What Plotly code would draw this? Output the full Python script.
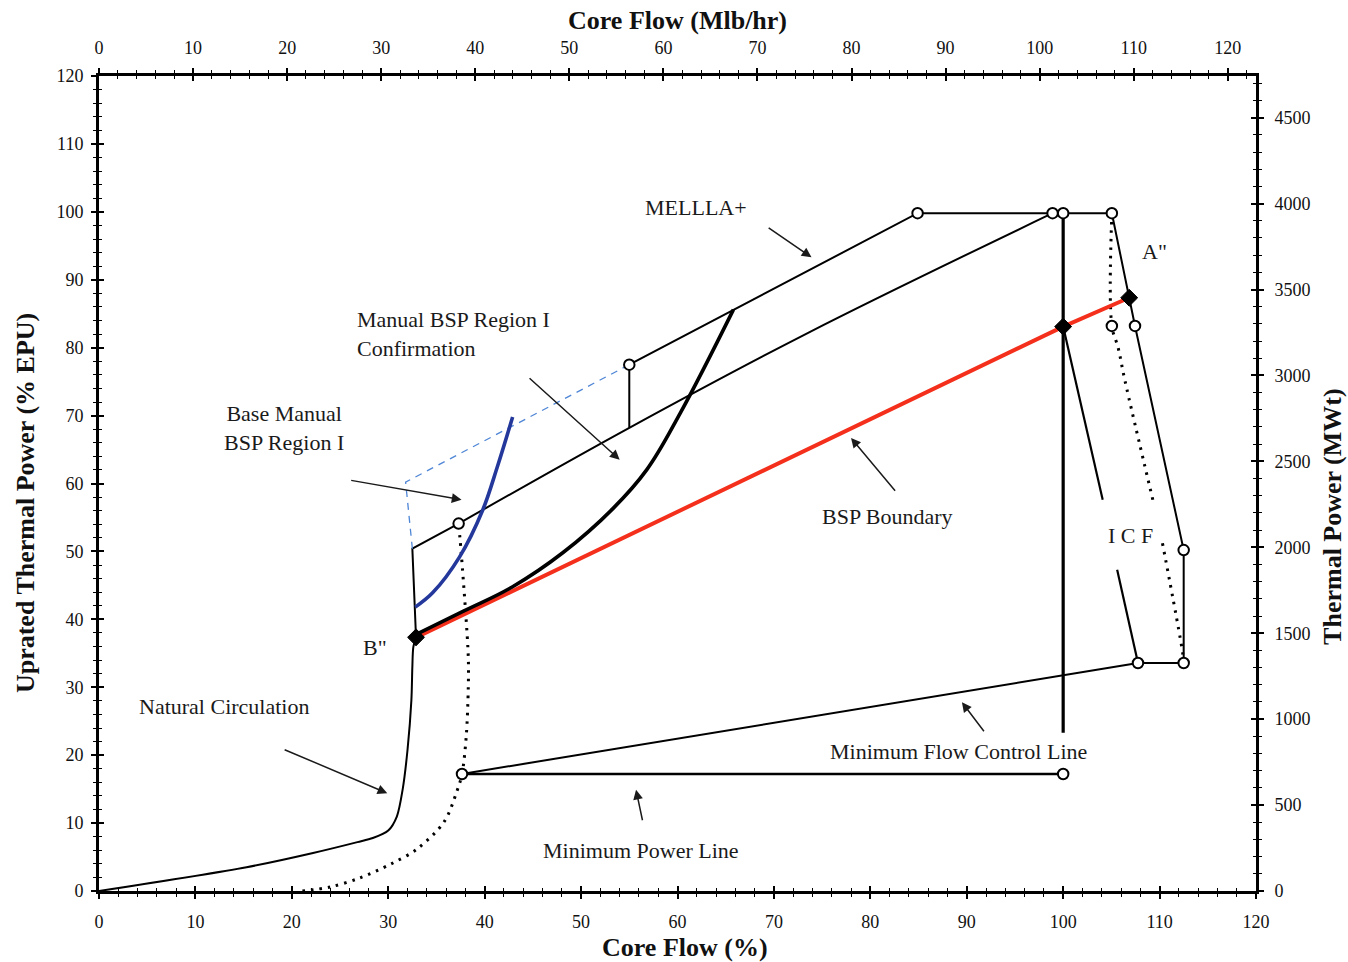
import plotly.graph_objects as go

# ---- Operating map data (Core Flow %, Uprated Thermal Power % EPU) ----
natural_circ_flow = [0, 15.3, 22.2, 26.8, 28.4, 30.0, 30.9, 31.5, 32.0, 32.4, 32.5, 32.6, 32.88]
natural_circ_power = [0, 3.5, 5.6, 7.2, 7.8, 8.9, 11.0, 15.0, 20.8, 28.1, 33.0, 35.9, 37.35]

rod_stub_flow = [32.88, 32.5, 37.3]
rod_stub_power = [37.35, 50.4, 54.1]

rod_line_flow = [37.3, 55.0, 73.7, 98.9]
rod_line_power = [54.1, 68.2, 82.3, 99.8]

mellla_flow = [55.0, 55.0, 84.9, 105.05]
mellla_power = [68.2, 77.5, 99.8, 99.8]

manual_bsp_flow = [32.9, 37.8, 42.9, 48.1, 53.3, 56.8, 60.3, 65.8]
manual_bsp_power = [37.8, 41.2, 44.8, 49.8, 56.3, 62.0, 70.4, 85.6]

base_bsp_flow = [32.8, 34.6, 37.4, 39.8, 41.3, 42.9]
base_bsp_power = [41.8, 43.9, 49.2, 56.1, 62.4, 69.8]

base_bsp_dash_flow = [32.5, 31.8, 55.0]
base_bsp_dash_power = [50.4, 60.2, 77.5]

bsp_boundary_flow = [32.88, 100.0, 106.85]
bsp_boundary_power = [37.35, 83.1, 87.35]

rated_flow_line_flow = [100.0, 100.0]
rated_flow_line_power = [99.8, 23.3]

icf_flow = [100.0, 104.1, None, 105.6, 107.76]
icf_power = [83.1, 57.6, None, 47.3, 33.57]

icf_boundary_flow = [105.05, 106.85, 107.45, 112.5, 112.5, 107.76]
icf_boundary_power = [99.8, 87.35, 83.2, 50.2, 33.57, 33.57]

icf_dotted_flow = [105.05, 105.05, 105.7, 106.4, 109.3, None, 110.3, 112.4, 112.5]
icf_dotted_power = [99.8, 83.2, 80.0, 75.2, 57.6, None, 51.2, 35.0, 33.57]

pump_min_flow = [21.1, 24.0, 27.0, 30.3, 33.0, 35.8, 37.1, 37.65, 38.1, 38.3, 38.3, 37.6, 37.3]
pump_min_power = [0.0, 0.6, 1.9, 4.0, 6.2, 10.2, 14.6, 17.23, 23.0, 30.0, 34.5, 49.2, 54.1]

min_flow_ctrl_flow = [37.65, 107.76]
min_flow_ctrl_power = [17.23, 33.57]

min_power_flow = [37.65, 100.0]
min_power_power = [17.23, 17.23]

state_point_flow = [55.0, 84.9, 98.9, 100.0, 105.05, 37.3, 105.05, 107.45, 112.5, 112.5, 107.76, 37.65, 100.0]
state_point_power = [77.5, 99.8, 99.8, 99.8, 99.8, 54.1, 83.2, 83.2, 50.2, 33.57, 33.57, 17.23, 17.23]

corner_flow = [32.88, 100.0, 106.85]
corner_power = [37.35, 83.1, 87.35]

# Axis scales
flow_pct_ticks = list(range(0, 121, 10))
flow_mlb_ticks = list(range(0, 121, 10))
power_pct_ticks = list(range(0, 121, 10))
power_mwt_ticks = list(range(0, 4501, 500))
RATED_FLOW_MLB = 102.5      # Mlb/hr at 100 % core flow
RATED_POWER_MWT = 3952.0    # MWt at 100 % EPU

SERIF = "Liberation Serif, Times New Roman, serif"
INK = "#111111"

fig = go.Figure()


def line(x, y, width=2, color="black", dash=None, shape="linear", smoothing=1.0):
    fig.add_trace(go.Scatter(
        x=x, y=y, mode="lines", showlegend=False, hoverinfo="skip",
        line=dict(color=color, width=width, dash=dash, shape=shape,
                  smoothing=smoothing),
        connectgaps=False,
    ))


line(natural_circ_flow, natural_circ_power, width=2, shape="spline", smoothing=0.8)
line(rod_stub_flow, rod_stub_power, width=2)
line(rod_line_flow, rod_line_power, width=2, shape="spline")
line(mellla_flow, mellla_power, width=2)
line(base_bsp_dash_flow, base_bsp_dash_power, width=1.3, color="#4f86d6", dash="7px,6px")
line(pump_min_flow, pump_min_power, width=3, dash="2.5px,6px", shape="spline", smoothing=0.9)
line(icf_dotted_flow, icf_dotted_power, width=3, dash="2.5px,6px", shape="spline")
line(min_flow_ctrl_flow, min_flow_ctrl_power, width=2)
line(min_power_flow, min_power_power, width=2.5)
line(icf_flow, icf_power, width=2.2)
line(icf_boundary_flow, icf_boundary_power, width=2)
line(rated_flow_line_flow, rated_flow_line_power, width=3.2)
line(bsp_boundary_flow, bsp_boundary_power, width=4, color="#f4301c")
line(manual_bsp_flow, manual_bsp_power, width=3.6, shape="spline", smoothing=1.1)
line(base_bsp_flow, base_bsp_power, width=3.6, color="#24389c", shape="spline")

fig.add_trace(go.Scatter(
    x=state_point_flow, y=state_point_power, mode="markers", showlegend=False,
    hoverinfo="skip",
    marker=dict(symbol="circle", size=10.5, color="white",
                line=dict(color="black", width=2)),
))
fig.add_trace(go.Scatter(
    x=corner_flow, y=corner_power, mode="markers", showlegend=False,
    hoverinfo="skip",
    marker=dict(symbol="diamond", size=13, color="black",
                line=dict(color="black", width=1)),
))

# Dummy points so the secondary / tick-duplicate axes are drawn
for xa, ya in (("x2", "y2"), ("x3", "y3"), ("x4", "y4")):
    fig.add_trace(go.Scatter(x=[0], y=[0], xaxis=xa, yaxis=ya, mode="markers",
                             marker=dict(opacity=0), showlegend=False,
                             hoverinfo="skip"))

tickfont = dict(family=SERIF, size=18, color=INK)


def axis(rng, tickvals, minor_dtick, ticks, labels, side, **kw):
    d = dict(
        range=rng, tickmode="array", tickvals=tickvals,
        ticks=ticks, ticklen=5, tickwidth=1.5, tickcolor="black",
        minor=dict(dtick=minor_dtick, tick0=0, ticks=ticks, ticklen=3,
                   tickwidth=1.2, tickcolor="black", showgrid=False),
        showgrid=False, zeroline=False, showticklabels=labels,
        tickfont=tickfont, side=side, fixedrange=True,
    )
    d.update(kw)
    return d


fig.update_layout(
    width=1348, height=962,
    margin=dict(l=99, r=92, t=76, b=71, autoexpand=False),
    paper_bgcolor="white", plot_bgcolor="white",
    xaxis=axis([0, 120], flow_pct_ticks, 2, "outside", True, "bottom",
               showline=True, linewidth=3, linecolor="black",
               anchor="y", ticklabelstandoff=7),
    xaxis2=axis([0, 120 * RATED_FLOW_MLB / 100], flow_mlb_ticks, 2, "outside",
                True, "top", overlaying="x", anchor="y",
                showline=True, linewidth=3, linecolor="black",
                ticklabelstandoff=7),
    xaxis3=axis([0, 120], flow_pct_ticks, 2, "inside", False, "bottom",
                overlaying="x", anchor="y"),
    xaxis4=axis([0, 120 * RATED_FLOW_MLB / 100], flow_mlb_ticks, 2, "inside",
                False, "top", overlaying="x", anchor="y"),
    yaxis=axis([0, 120], power_pct_ticks, 2, "outside", True, "left",
               showline=True, linewidth=3, linecolor="black",
               anchor="x", ticklabelstandoff=4),
    yaxis2=axis([0, 120 * RATED_POWER_MWT / 100], power_mwt_ticks, 100,
                "outside", True, "right", overlaying="y", anchor="x",
                showline=True, linewidth=3, linecolor="black",
                ticklabelstandoff=7),
    yaxis3=axis([0, 120], power_pct_ticks, 2, "inside", False, "left",
                overlaying="y", anchor="x"),
    yaxis4=axis([0, 120 * RATED_POWER_MWT / 100], power_mwt_ticks, 100,
                "inside", False, "right", overlaying="y", anchor="x"),
)

title_font = dict(family=SERIF, size=26, color=INK)
label_font = dict(family=SERIF, size=22, color="#1a1a1a")

annotations = [
    # axis titles
    dict(text="<b>Core Flow (%)</b>", xref="paper", yref="paper", x=0.5065, y=0,
         yshift=-56, showarrow=False, font=title_font, yanchor="middle"),
    dict(text="<b>Core Flow (Mlb/hr)</b>", xref="paper", yref="paper", x=0.5, y=1,
         yshift=56, showarrow=False, font=title_font, yanchor="middle"),
    dict(text="<b>Uprated Thermal Power (% EPU)</b>", xref="paper", yref="paper",
         x=0, y=0.476, xshift=-74, textangle=-90, showarrow=False,
         font=title_font, xanchor="center", yanchor="middle"),
    dict(text="<b>Thermal Power (MWt)</b>", xref="paper", yref="paper",
         x=1, y=0.459, xshift=77, textangle=-90, showarrow=False,
         font=title_font, xanchor="center", yanchor="middle"),
    # region labels
    dict(text="MELLLA+", x=61.9, y=100.6, showarrow=False, font=label_font),
    dict(text="Manual BSP Region I<br>Confirmation", x=26.55, y=82.0,
         xanchor="left", align="left", showarrow=False, font=label_font),
    dict(text="Base Manual<br>BSP Region I", x=19.2, y=68.2, align="center",
         showarrow=False, font=label_font),
    dict(text="Natural Circulation", x=13.0, y=27.2, showarrow=False, font=label_font),
    dict(text='B"', x=28.6, y=35.8, showarrow=False, font=label_font),
    dict(text='A"', x=109.5, y=94.1, showarrow=False, font=label_font),
    dict(text="BSP Boundary", x=81.8, y=55.1, showarrow=False, font=label_font),
    dict(text="I C F", x=107.0, y=52.4, showarrow=False, font=label_font),
    dict(text="Minimum Flow Control Line", x=89.1, y=20.6, showarrow=False,
         font=label_font),
    dict(text="Minimum Power Line", x=56.2, y=6.0, showarrow=False, font=label_font),
]

# pointer arrows: (tail flow, tail power, head flow, head power)
pointers = [
    (69.3, 97.8, 73.9, 93.3),
    (44.5, 75.7, 54.0, 63.5),
    (26.0, 60.5, 37.6, 57.6),
    (19.1, 20.9, 29.9, 14.4),
    (82.7, 58.7, 78.0, 66.7),
    (91.9, 23.3, 89.5, 27.8),
    (56.4, 10.2, 55.7, 14.9),
]
for tx, ty, hx, hy in pointers:
    annotations.append(dict(
        x=hx, y=hy, ax=tx, ay=ty, xref="x", yref="y", axref="x", ayref="y",
        text="", showarrow=True, arrowhead=2, arrowsize=1.3, arrowwidth=1.5,
        arrowcolor="#1a1a1a", standoff=0, startstandoff=0,
    ))

fig.update_layout(annotations=annotations)

fig.write_html("out.html")
